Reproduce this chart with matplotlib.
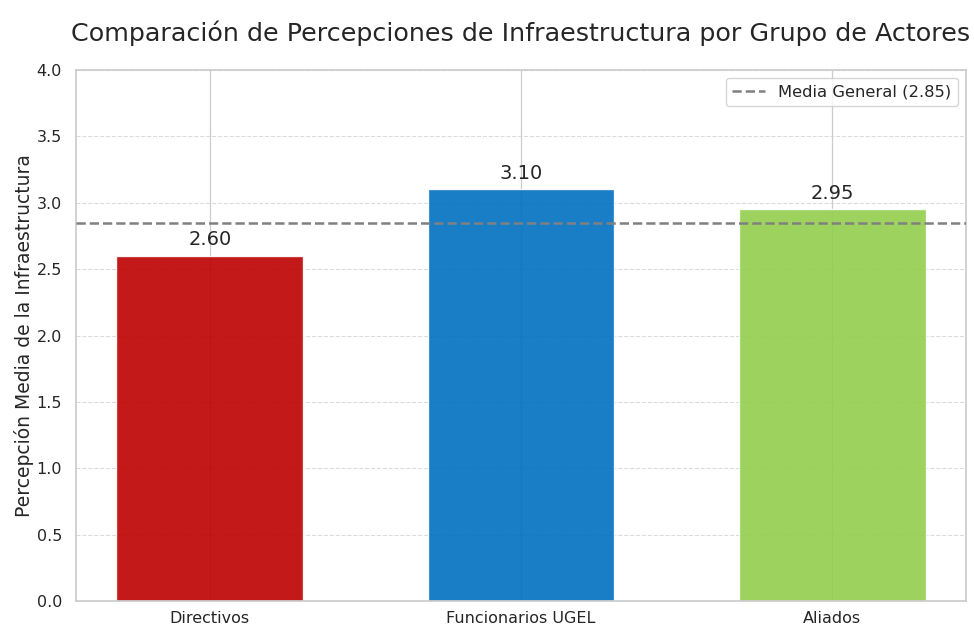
import matplotlib
matplotlib.use("Agg")
import matplotlib.pyplot as plt
import seaborn as sns

sns.set_theme(style="whitegrid")
plt.rcParams['font.family'] = ['DejaVu Sans']

categories = ["Directivos", "Funcionarios UGEL", "Aliados"]
values = [2.60, 3.10, 2.95]
mean_value = 2.85
colors = ["#bd0000", "#0070c0", "#92ce4d"]

fig = plt.figure(figsize=(9.74, 6.26), dpi=100)
ax = fig.add_axes([76/974, 1-601/626, (966-76)/974, (601-70)/626])

bars = ax.bar(categories, values, width=0.6, color=colors, alpha=0.9, zorder=2)
ax.axhline(mean_value, color="gray", linestyle="--", linewidth=1.8,
           label=f"Media General ({mean_value:.2f})", zorder=3)

for b, v in zip(bars, values):
    ax.text(b.get_x() + b.get_width()/2, v + 0.05, f"{v:.2f}",
            ha="center", va="bottom", fontsize=14, color="#262626")

ax.set_ylim(0, 4.0)
ax.set_yticks([0.0, 0.5, 1.0, 1.5, 2.0, 2.5, 3.0, 3.5, 4.0])
ax.yaxis.grid(True, linestyle="--", linewidth=0.8, alpha=0.7)
ax.xaxis.grid(True, linestyle="-", linewidth=0.9)
ax.set_axisbelow(True)
ax.tick_params(axis="y", labelsize=11.5, pad=4)
ax.tick_params(axis="x", labelsize=11.5, pad=1.5)
ax.set_ylabel("Percepción Media de la Infraestructura", fontsize=13.5, labelpad=2)
ax.set_title("Comparación de Percepciones de Infraestructura por Grupo de Actores",
             fontsize=18.3, pad=21)
ax.legend(loc="upper right", fontsize=11.8)

fig.savefig("out.png", dpi=100)
